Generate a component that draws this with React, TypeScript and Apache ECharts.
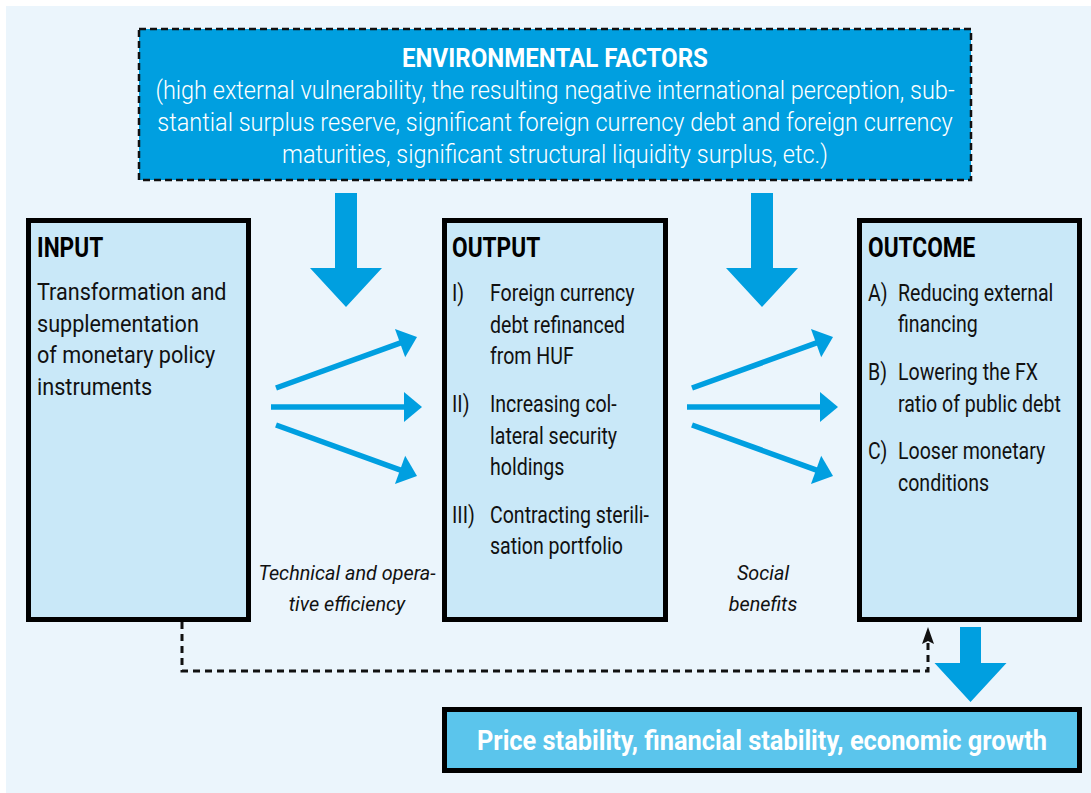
import React, { useEffect, useRef } from "react";
import * as echarts from "echarts";

const envTitle = "ENVIRONMENTAL FACTORS";
const envLines = [
  "(high external vulnerability, the resulting negative international perception, sub-",
  "stantial surplus reserve, significant foreign currency debt and foreign currency",
  "maturities, significant structural liquidity surplus, etc.)",
];
const inputTitle = "INPUT";
const inputLines = ["Transformation and", "supplementation", "of monetary policy", "instruments"];
const outputTitle = "OUTPUT";
const outputLabels = ["I)", "II)", "III)"];
const outputItems = [
  ["Foreign currency", "debt refinanced", "from HUF"],
  ["Increasing col-", "lateral security", "holdings"],
  ["Contracting sterili-", "sation portfolio"],
];
const outcomeTitle = "OUTCOME";
const outcomeLabels = ["A)", "B)", "C)"];
const outcomeItems = [
  ["Reducing external", "financing"],
  ["Lowering the FX", "ratio of public debt"],
  ["Looser monetary", "conditions"],
];
const leftLabel = ["Technical and opera-", "tive efficiency"];
const rightLabel = ["Social", "benefits"];
const finalText = "Price stability, financial stability, economic growth";

const BG = "#EBF5FC";
const BOX = "#C9E8F8";
const BLUE = "#009FE0";
const LIGHTBLUE = "#5BC5EC";
const FONT = "Roboto, 'Noto Sans', sans-serif";

const SX_BODY = 0.85;
const SX_INPUT = 0.94;
const SX_ENV = 0.94;
const SX_TITLE = 0.84;
const SX_BOTTOM = 0.94;
const SX_ITAL = 0.99;

function txt(text: string, x: number, y: number, opts: any = {}) {
  return {
    type: "text",
    x,
    y,
    scaleX: opts.sx ?? SX_BODY,
    scaleY: 1,
    silent: true,
    style: {
      text,
      fill: opts.fill ?? "#111",
      font: `${opts.style ?? "normal"} ${opts.weight ?? "normal"} ${opts.size ?? 23}px ${FONT}`,
      textAlign: opts.align ?? "left",
      textVerticalAlign: "middle",
    },
  };
}

function arrow(x1: number, y1: number, x2: number, y2: number) {
  const dx = x2 - x1, dy = y2 - y1;
  const len = Math.hypot(dx, dy);
  const ux = dx / len, uy = dy / len;
  const px = -uy, py = ux;
  const hl = 18, hw = 15;
  const bx = x2 - ux * hl, by = y2 - uy * hl;
  return [
    { type: "line", silent: true, shape: { x1, y1, x2: bx + ux * 2, y2: by + uy * 2 }, style: { stroke: BLUE, lineWidth: 5.5 } },
    {
      type: "polygon",
      silent: true,
      shape: { points: [[x2, y2], [bx + px * hw, by + py * hw], [bx - px * hw, by - py * hw]] },
      style: { fill: BLUE },
    },
  ];
}

function downArrow(cx: number, y0: number, yb: number, yt: number, sw: number, hw: number) {
  return {
    type: "polygon",
    silent: true,
    shape: {
      points: [
        [cx - sw, y0], [cx + sw, y0], [cx + sw, yb], [cx + hw, yb], [cx, yt], [cx - hw, yb], [cx - sw, yb],
      ],
    },
    style: { fill: BLUE },
  };
}

function box(x: number, y: number, w: number, h: number, fill: string) {
  return {
    type: "rect",
    silent: true,
    shape: { x: x + 2.5, y: y + 2.5, width: w - 5, height: h - 5 },
    style: { fill, stroke: "#000", lineWidth: 5 },
  };
}

export default function App() {
  const ref = useRef<HTMLDivElement>(null);
  useEffect(() => {
    document.body.style.margin = "0";
    const chart = echarts.init(ref.current!, null, { renderer: "svg" });
    const g: any[] = [];
    g.push({ type: "rect", silent: true, shape: { x: 6, y: 6, width: 1091, height: 793 }, style: { fill: BG } });

    // Environmental box
    g.push({
      type: "rect",
      silent: true,
      shape: { x: 139, y: 29, width: 832, height: 151 },
      style: { fill: BLUE, stroke: "#111", lineWidth: 2.5, lineDash: [7, 4] },
    });
    g.push(txt(envTitle, 555, 58, { fill: "#fff", weight: "bold", size: 26, sx: 0.925, align: "center" }));
    envLines.forEach((l, i) =>
      g.push(txt(l, 555, 90 + i * 32, { fill: "#fff", weight: 300, size: 25, sx: SX_ENV, align: "center" }))
    );

    // down arrows
    g.push(downArrow(346, 193, 268, 307, 11, 36));
    g.push(downArrow(762, 193, 268, 307, 11, 36));
    g.push(downArrow(970.5, 627, 663, 702, 10.5, 36));

    // boxes
    g.push(box(26, 218, 225, 404, BOX));
    g.push(box(442, 218, 226, 404, BOX));
    g.push(box(857, 218, 225, 404, BOX));
    g.push(box(442, 707, 640, 66, LIGHTBLUE));

    // INPUT
    g.push(txt(inputTitle, 37, 248, { weight: "bold", size: 27, sx: SX_TITLE, fill: "#000" }));
    inputLines.forEach((l, i) => g.push(txt(l, 37, [292, 324, 355, 387][i], { sx: SX_INPUT })));

    // OUTPUT
    g.push(txt(outputTitle, 452, 248, { weight: "bold", size: 27, sx: SX_TITLE, fill: "#000" }));
    const outY = [[293, 325, 356], [404, 436, 467], [515, 546]];
    outputLabels.forEach((lab, k) => {
      g.push(txt(lab, 452, outY[k][0], {}));
      outputItems[k].forEach((l, i) => g.push(txt(l, 490, outY[k][i], {})));
    });

    // OUTCOME
    g.push(txt(outcomeTitle, 868, 248, { weight: "bold", size: 27, sx: SX_TITLE, fill: "#000" }));
    const ocY = [[293, 324], [372, 404], [451, 483]];
    outcomeLabels.forEach((lab, k) => {
      g.push(txt(lab, 868, ocY[k][0], {}));
      outcomeItems[k].forEach((l, i) => g.push(txt(l, 898, ocY[k][i], {})));
    });

    // fan arrows
    [0, 416].forEach((o) => {
      g.push(...arrow(276 + o, 388, 417 + o, 337));
      g.push(...arrow(271 + o, 407, 422 + o, 407));
      g.push(...arrow(276 + o, 425, 417 + o, 476));
    });

    // italic labels
    leftLabel.forEach((l, i) => g.push(txt(l, 347, 573 + i * 31, { style: "italic", size: 20, sx: SX_ITAL, align: "center" })));
    rightLabel.forEach((l, i) => g.push(txt(l, 763, 573 + i * 31, { style: "italic", size: 20, sx: SX_ITAL, align: "center" })));

    // dashed feedback
    g.push({
      type: "polyline",
      silent: true,
      shape: { points: [[182, 622], [182, 671], [928, 671], [928, 642]] },
      style: { stroke: "#111", lineWidth: 3, lineDash: [7, 5], fill: null },
    });
    g.push({
      type: "polygon",
      silent: true,
      shape: { points: [[928, 627], [934, 644], [928, 641], [922, 644]] },
      style: { fill: "#111" },
    });

    // final text
    g.push(txt(finalText, 762, 741, { fill: "#fff", weight: "bold", size: 27, sx: SX_BOTTOM, align: "center" }));

    chart.setOption({ animation: false, graphic: { elements: g } });
    return () => chart.dispose();
  }, []);
  return <div ref={ref} style={{ width: 1091, height: 793 }} />;
}
